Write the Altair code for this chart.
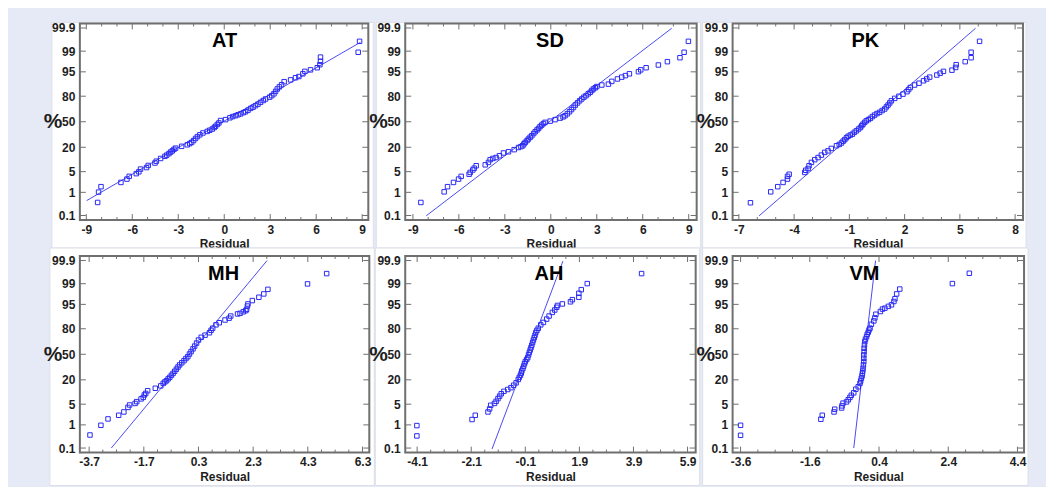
import altair as alt
from statistics import NormalDist

# ---------------- data ----------------
PROB_TICKS = [0.1, 1, 5, 20, 50, 80, 95, 99, 99.9]   # % labels of the probability axis

# normal scores (y) and residuals (x) of the plotted points
AT_X = [-8.26, -8.20, -8.04, -6.74, -6.35, -6.20, -5.74, -5.57, -5.46, -5.07, -4.96, -4.52, -4.43,
        -4.15, -3.87, -3.75, -3.61, -3.50, -3.39, -3.28, -3.17, -2.78, -2.41, -2.25, -2.13, -2.00,
        -1.87, -1.75, -1.59, -1.39, -1.11, -0.95, -0.78, -0.65, -0.57, -0.45, -0.35, -0.24, 0.09,
        0.37, 0.55, 0.74, 0.90, 1.07, 1.25, 1.39, 1.55, 1.72, 1.88, 2.04, 2.20, 2.37, 2.55, 2.70,
        2.96, 3.10, 3.24, 3.35, 3.46, 3.60, 3.74, 3.91, 4.33, 4.65, 4.87, 5.13, 5.26, 5.63, 6.07,
        6.24, 6.28, 6.28, 8.74, 8.83]
AT_Z = [-2.66, -2.32, -2.14, -2.00, -1.89, -1.80, -1.71, -1.65, -1.56, -1.51, -1.44, -1.36, -1.30,
        -1.21, -1.14, -1.10, -1.05, -1.00, -0.96, -0.91, -0.87, -0.81, -0.76, -0.72, -0.68, -0.62,
        -0.55, -0.49, -0.43, -0.37, -0.32, -0.28, -0.24, -0.19, -0.15, -0.09, -0.04, 0.04, 0.07,
        0.13, 0.17, 0.20, 0.23, 0.26, 0.30, 0.33, 0.38, 0.44, 0.48, 0.53, 0.58, 0.64, 0.70, 0.75,
        0.81, 0.86, 0.92, 1.00, 1.08, 1.15, 1.22, 1.32, 1.38, 1.45, 1.49, 1.58, 1.66, 1.71, 1.78,
        1.88, 1.99, 2.13, 2.29, 2.65]

SD_X = [-8.48, -6.96, -6.74, -6.35, -6.02, -5.85, -5.33, -5.26, -5.09, -5.00, -4.87, -4.28, -4.07,
        -3.96, -3.78, -3.57, -3.35, -3.09, -2.76, -2.39, -2.11, -1.95, -1.83, -1.75, -1.67, -1.55,
        -1.46, -1.35, -1.24, -1.12, -1.02, -0.90, -0.80, -0.70, -0.59, -0.48, -0.37, -0.04, 0.28,
        0.61, 0.80, 0.93, 1.08, 1.22, 1.35, 1.48, 1.60, 1.74, 1.88, 2.02, 2.16, 2.30, 2.44, 2.57,
        2.68, 2.78, 2.90, 3.00, 3.33, 3.76, 3.98, 4.35, 4.63, 4.87, 5.13, 5.72, 5.87, 6.22, 7.02,
        7.61, 8.43, 8.70, 8.98]
SD_Z = [-2.66, -2.31, -2.14, -2.00, -1.89, -1.80, -1.73, -1.67, -1.59, -1.53, -1.45, -1.42, -1.34,
        -1.25, -1.21, -1.18, -1.12, -1.03, -0.99, -0.92, -0.85, -0.82, -0.79, -0.73, -0.68, -0.62,
        -0.57, -0.51, -0.46, -0.39, -0.33, -0.27, -0.22, -0.16, -0.11, -0.06, -0.02, 0.02, 0.07,
        0.12, 0.16, 0.20, 0.26, 0.33, 0.40, 0.47, 0.55, 0.62, 0.69, 0.75, 0.81, 0.86, 0.92, 0.97,
        1.03, 1.08, 1.12, 1.16, 1.21, 1.24, 1.33, 1.41, 1.47, 1.52, 1.58, 1.65, 1.71, 1.78, 1.87,
        1.98, 2.11, 2.29, 2.65]

PK_X = [-6.37, -5.27, -4.89, -4.60, -4.36, -4.36, -4.27, -3.42, -3.37, -3.24, -3.19, -3.06, -2.88,
        -2.70, -2.52, -2.34, -2.16, -1.98, -1.70, -1.55, -1.43, -1.34, -1.25, -1.16, -1.07, -0.95,
        -0.84, -0.73, -0.62, -0.50, -0.40, -0.33, -0.26, -0.17, -0.08, 0.03, 0.14, 0.25, 0.37,
        0.50, 0.64, 0.78, 0.92, 1.01, 1.10, 1.19, 1.28, 1.46, 1.69, 1.91, 2.13, 2.22, 2.31, 2.54,
        2.78, 3.03, 3.20, 3.36, 3.75, 3.93, 4.11, 4.57, 4.77, 4.80, 5.29, 5.61, 5.61, 6.07]
PK_Z = [-2.67, -2.31, -2.14, -2.00, -1.89, -1.80, -1.73, -1.67, -1.60, -1.54, -1.45, -1.34, -1.25,
        -1.18, -1.10, -1.01, -0.96, -0.88, -0.79, -0.75, -0.70, -0.64, -0.59, -0.53, -0.48, -0.44,
        -0.41, -0.35, -0.30, -0.24, -0.19, -0.13, -0.08, -0.02, 0.03, 0.07, 0.11, 0.17, 0.22,
        0.27, 0.31, 0.37, 0.42, 0.49, 0.55, 0.62, 0.69, 0.77, 0.84, 0.91, 0.99, 1.06, 1.13, 1.21,
        1.27, 1.35, 1.41, 1.47, 1.54, 1.60, 1.66, 1.70, 1.79, 1.88, 1.98, 2.11, 2.29, 2.65]

MH_X = [-3.67, -3.27, -3.01, -2.62, -2.43, -2.28, -2.22, -2.02, -1.96, -1.80, -1.72, -1.68, -1.63,
        -1.56, -1.28, -1.08, -0.99, -0.93, -0.87, -0.81, -0.75, -0.69, -0.63, -0.57, -0.51, -0.45,
        -0.39, -0.31, -0.23, -0.16, -0.09, -0.03, 0.03, 0.10, 0.16, 0.23, 0.30, 0.40, 0.54, 0.70,
        0.76, 0.82, 0.94, 1.06, 1.27, 1.42, 1.48, 1.73, 1.82, 1.94, 2.03, 2.06, 2.09, 2.11, 2.27,
        2.51, 2.69, 2.84, 4.29, 4.99]
MH_Z = [-2.66, -2.34, -2.13, -2.01, -1.90, -1.75, -1.67, -1.62, -1.56, -1.47, -1.42, -1.34, -1.29,
        -1.20, -1.12, -1.04, -0.96, -0.91, -0.87, -0.81, -0.76, -0.69, -0.63, -0.56, -0.49, -0.42,
        -0.35, -0.28, -0.21, -0.14, -0.08, 0.01, 0.09, 0.18, 0.27, 0.37, 0.47, 0.56, 0.63, 0.71,
        0.79, 0.86, 0.97, 1.04, 1.13, 1.19, 1.26, 1.33, 1.35, 1.40, 1.44, 1.48, 1.59, 1.66, 1.77,
        1.88, 1.99, 2.14, 2.32, 2.66]

AH_X = [-4.11, -4.11, -2.07, -1.95, -1.48, -1.42, -1.38, -1.24, -1.18, -1.11, -1.05, -0.99, -0.89,
        -0.75, -0.63, -0.53, -0.44, -0.36, -0.32, -0.28, -0.25, -0.23, -0.19, -0.16, -0.13, -0.10,
        -0.05, -0.01, 0.02, 0.05, 0.08, 0.11, 0.14, 0.17, 0.20, 0.23, 0.26, 0.29, 0.33, 0.38, 0.47,
        0.57, 0.69, 0.78, 0.90, 0.99, 1.06, 1.09, 1.27, 1.57, 1.64, 1.88, 1.88, 1.97, 2.19, 4.20]
AH_Z = [-2.69, -2.35, -2.15, -2.01, -1.90, -1.80, -1.68, -1.62, -1.55, -1.46, -1.38, -1.30, -1.22,
        -1.16, -1.10, -1.02, -0.94, -0.83, -0.76, -0.69, -0.62, -0.55, -0.47, -0.39, -0.31, -0.24,
        -0.17, -0.11, -0.02, 0.06, 0.14, 0.22, 0.30, 0.39, 0.47, 0.55, 0.63, 0.72, 0.79, 0.86, 0.97,
        1.05, 1.16, 1.26, 1.38, 1.46, 1.55, 1.61, 1.66, 1.73, 1.80, 1.88, 2.01, 2.13, 2.33, 2.66]

VM_X = [-3.60, -3.60, -1.28, -1.24, -0.90, -0.88, -0.68, -0.67, -0.64, -0.54, -0.49, -0.44, -0.40,
        -0.33, -0.27, -0.20, -0.15, -0.13, -0.11, -0.09, -0.08, -0.07, -0.06, -0.05, -0.04, -0.04,
        -0.04, -0.03, -0.03, -0.02, -0.01, 0.01, 0.04, 0.06, 0.09, 0.11, 0.14, 0.18, 0.25, 0.28,
        0.31, 0.44, 0.50, 0.57, 0.67, 0.76, 0.83, 0.86, 0.91, 1.00, 2.52, 3.01]
VM_Z = [-2.67, -2.34, -2.14, -2.01, -1.90, -1.81, -1.77, -1.70, -1.61, -1.57, -1.50, -1.42, -1.35,
        -1.27, -1.15, -1.07, -0.96, -0.88, -0.79, -0.71, -0.63, -0.55, -0.46, -0.35, -0.24, -0.13,
        -0.02, 0.09, 0.20, 0.31, 0.42, 0.50, 0.58, 0.66, 0.73, 0.80, 0.86, 0.99, 1.10, 1.20,
        1.32, 1.41, 1.49, 1.52, 1.58, 1.63, 1.74, 1.83, 1.99, 2.15, 2.33, 2.67]

# fitted reference lines (two end points each)
AT_LINE_X, AT_LINE_Z = [-8.98, 8.89], [-2.60, 2.62]
SD_LINE_X, SD_LINE_Z = [-8.13, 7.89], [-3.10, 3.08]
PK_LINE_X, PK_LINE_Z = [-5.90, 5.85], [-3.10, 3.08]
MH_LINE_X, MH_LINE_Z = [-2.89, 2.81], [-3.09, 3.09]
AH_LINE_X, AH_LINE_Z = [-1.33, 1.29], [-3.12, 3.07]
VM_LINE_X, VM_LINE_Z = [-0.33, 0.30], [-3.09, 3.09]

# x-axis tick labels
AT_TICKS = [-9, -6, -3, 0, 3, 6, 9]
SD_TICKS = [-9, -6, -3, 0, 3, 6, 9]
PK_TICKS = [-7, -4, -1, 2, 5, 8]
MH_TICKS = [-3.7, -1.7, 0.3, 2.3, 4.3, 6.3]
AH_TICKS = [-4.1, -2.1, -0.1, 1.9, 3.9, 5.9]
VM_TICKS = [-3.6, -1.6, 0.4, 2.4, 4.4]

# ---------------- styling ----------------
FONT = "Liberation Sans Narrow, Arial Narrow, Liberation Sans, sans-serif"
BLUE = "#2a2af5"
LINE_BLUE = "#4a4af5"
FRAME = "#6f6f6f"
LAVENDER = "#e6eaf6"
CARD_STROKE = "#dcdfe8"
TEXT = "#1e1e1e"

nd = NormalDist()
Z_TICKS = [nd.inv_cdf(p / 100) for p in PROB_TICKS]
Y_DOMAIN = [-3.24, 3.24]


def prob_label_expr():
    parts = []
    for i in range(len(PROB_TICKS) - 1):
        mid = (Z_TICKS[i] + Z_TICKS[i + 1]) / 2
        parts.append(f"datum.value < {mid:.4f} ? '{PROB_TICKS[i]:g}' : ")
    return "".join(parts) + f"'{PROB_TICKS[-1]:g}'"


LABEL_EXPR = prob_label_expr()
EMPTY = alt.Data(values=[{}])


def minor_ticks(majors, n_between):
    step = (majors[1] - majors[0]) / (n_between + 1)
    out = []
    for i in range(len(majors) - 1):
        for k in range(1, n_between + 1):
            out.append(round(majors[i] + k * step, 4))
    return out


AXIS_COMMON = dict(domain=False, ticks=False, grid=False, zindex=1,
                   labelFont=FONT, labelFontSize=12, labelFontWeight="bold", labelColor=TEXT,
                   titleFont=FONT, titleFontWeight="bold", titleColor=TEXT,
                   labelFlush=False, labelOverlap=False)


def panel(name, xs, zs, lx, lz, dom, majors, n_minor, w, h, card, title_x, extra=None):
    xenc = alt.X("x:Q", scale=alt.Scale(domain=dom, nice=False, zero=False),
                 axis=alt.Axis(values=majors, labelExpr="toString(datum.value)", title="Residual",
                               labelPadding=4, titleY=24, titleBaseline="middle", titleFontSize=12,
                               **AXIS_COMMON))
    yenc = alt.Y("y:Q", scale=alt.Scale(domain=Y_DOMAIN, nice=False, zero=False),
                 axis=alt.Axis(values=Z_TICKS, labelExpr=LABEL_EXPR, title="%",
                               labelPadding=5, titleAngle=0, titleX=-18, titleY=h / 2,
                               titleAlign="right", titleBaseline="middle", titleFontSize=21,
                               **AXIS_COMMON))

    pts = alt.Data(values=[{"x": a, "y": b} for a, b in zip(xs, zs)])
    line = alt.Data(values=[{"x": a, "y": b} for a, b in zip(lx, lz)])
    xmaj = alt.Data(values=[{"x": v} for v in majors])
    xmin = alt.Data(values=[{"x": v} for v in minor_ticks(majors, n_minor)])
    ymaj = alt.Data(values=[{"y": v} for v in Z_TICKS])

    layers = []
    if extra is not None:
        layers.append(alt.Chart(EMPTY).mark_rect(fill=LAVENDER).encode(
            x=alt.value(extra[0]), x2=alt.value(extra[1]),
            y=alt.value(extra[2]), y2=alt.value(extra[3])))
    layers.append(alt.Chart(EMPTY).mark_rect(fill="white", stroke=CARD_STROKE, strokeWidth=1).encode(
        x=alt.value(card[0]), x2=alt.value(card[1]), y=alt.value(card[2]), y2=alt.value(card[3])))
    layers.append(alt.Chart(EMPTY).mark_rect(fillOpacity=0, stroke=FRAME, strokeWidth=2).encode(
        x=alt.value(0), x2=alt.value(w), y=alt.value(0), y2=alt.value(h)))
    tick = dict(color=FRAME, strokeWidth=1)
    layers += [
        alt.Chart(xmaj).mark_rule(**tick).encode(x=xenc, y=alt.value(h), y2=alt.value(h - 6)),
        alt.Chart(xmaj).mark_rule(**tick).encode(x=xenc, y=alt.value(0), y2=alt.value(6)),
        alt.Chart(xmin).mark_rule(**tick).encode(x=xenc, y=alt.value(h), y2=alt.value(h - 3)),
        alt.Chart(xmin).mark_rule(**tick).encode(x=xenc, y=alt.value(0), y2=alt.value(3)),
        alt.Chart(ymaj).mark_rule(**tick).encode(y=yenc, x=alt.value(0), x2=alt.value(6)),
        alt.Chart(ymaj).mark_rule(**tick).encode(y=yenc, x=alt.value(w), x2=alt.value(w - 6)),
        alt.Chart(line).mark_line(color=LINE_BLUE, strokeWidth=1).encode(x=xenc, y=yenc),
        alt.Chart(pts).mark_point(shape="square", size=20, filled=False, color=BLUE,
                                  strokeWidth=1, opacity=1).encode(x=xenc, y=yenc),
        alt.Chart(EMPTY).mark_text(text=name, font=FONT, fontSize=20, fontWeight="bold",
                                   color="black", align="center", baseline="alphabetic").encode(
            x=alt.value(title_x), y=alt.value(24)),
    ]
    return alt.layer(*layers).properties(width=w, height=h)


H = 197
at = panel("AT", AT_X, AT_Z, AT_LINE_X, AT_LINE_Z, [-9.42, 9.4], AT_TICKS, 2, 289, H,
           (-28, 294, -1, 225), 145, extra=(-72, -60, -15, -4))
sd = panel("SD", SD_X, SD_Z, SD_LINE_X, SD_LINE_Z, [-9.5, 9.52], SD_TICKS, 2, 292, H,
           (-29, 296, -1, 225), 145)
pk = panel("PK", PK_X, PK_Z, PK_LINE_X, PK_LINE_Z, [-7.34, 8.43], PK_TICKS, 2, 291, H,
           (-30, 294, -1, 225), 133, extra=(300, 314, 0, 10))
mh = panel("MH", MH_X, MH_Z, MH_LINE_X, MH_LINE_Z, [-4.04, 6.55], MH_TICKS, 3, 290, H,
           (-30, 295, -8, 230), 144)
ah = panel("AH", AH_X, AH_Z, AH_LINE_X, AH_LINE_Z, [-4.54, 6.2], AH_TICKS, 3, 291, H,
           (-30, 295, -8, 230), 144)
vm = panel("VM", VM_X, VM_Z, VM_LINE_X, VM_LINE_Z, [-3.83, 4.59], VM_TICKS, 3, 292, H,
           (-30, 296, -8, 230), 132)

chart = alt.concat(at, sd, pk, mh, ah, vm, columns=3, spacing=36, bounds="flush").properties(
    padding=0, background=LAVENDER
).configure_view(
    strokeWidth=0
)

chart.save("out.html", embed_options={"renderer": "svg", "actions": False})
